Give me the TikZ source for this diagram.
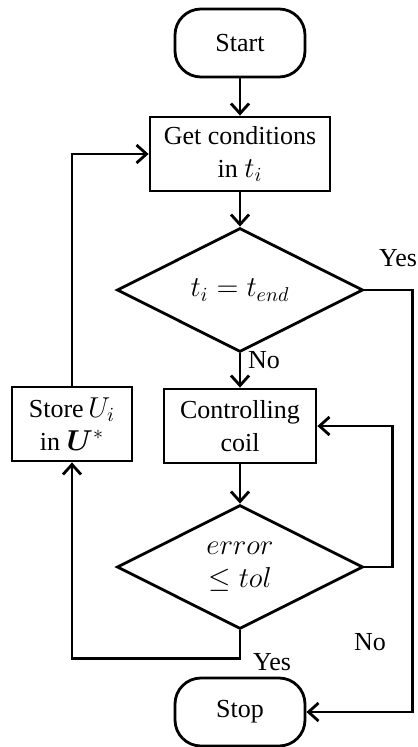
\documentclass[tikz,border=0pt]{standalone}
\usepackage{amsmath}
\usepackage{bm}
\usepackage{fontspec}
\setmainfont{Liberation Serif}
\DeclareMathSizes{13}{14.5}{10}{8}
\usetikzlibrary{shapes.geometric,arrows.meta}

\begin{document}
\begin{tikzpicture}[x=0.5pt,y=-0.5pt,
        line width=1.4pt,
        font=\fontsize{13}{16.5}\selectfont,
        >={Straight Barb[length=5pt,width=9pt]},
        terminal/.style={draw,rounded corners=13pt,minimum width=65pt,minimum height=34pt,inner sep=0pt},
        process/.style={draw,align=center,minimum height=37pt,inner sep=0pt},
        decision/.style={draw,diamond,align=center,inner sep=0pt,minimum width=123pt,minimum height=62pt}]
        \useasboundingbox (0,0) rectangle (417,747);

        \node[terminal] at (240,43) (start) {Start};
        \node[process,minimum width=90pt] at (240,154) (get) {Get conditions\\in $t_i$};
        \node[decision] at (240,290) (dec1) {$t_i = t_{end}$};
        \node[process,minimum width=76pt] at (240,426) (coil) {Controlling\\coil};
        \node[process,minimum width=60pt] at (72,424) (store) {Store\,$U_i$\\in $\bm{U}^{*}$};
        \node[decision] at (240,567) (dec2) {$error$\\$\leq tol$};
        \node[terminal] at (240,712) (stop) {Stop};

        \draw[->] (start) -- (get);
        \draw[->] (get) -- (dec1);
        \draw[->] (dec1) -- (coil) node [pos=0.2, right] (no1) {No};
        \draw[->] (coil) -- (dec2);
        \draw[->] (dec2.east) -- ++(28,0) |- (coil.east);
        \draw[->] (dec2.south) -- ++(0,28) -| (store.south);
        \draw[->] (store.north) |- (get.west);
        \draw[->] (dec1.east) -- ++(48,0) |- (stop.east);

        \node at (398,258) (yes1) {Yes};
        \node at (370,642) (no2) {No};
        \node at (272,662) (yes2) {Yes};
    \end{tikzpicture}
\end{document}
